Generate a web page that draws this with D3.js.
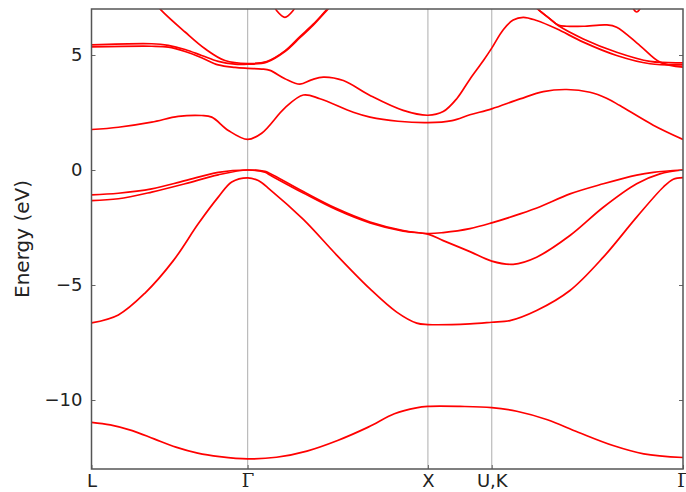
<!DOCTYPE html>
<html>
<head>
<meta charset="utf-8">
<script src="https://cdn.jsdelivr.net/npm/d3@7"></script>
<style>
  body { margin: 0; background: white; }
  svg { display: block; }
  .tickText { font-family: "DejaVu Sans", sans-serif; font-size: 18px; fill: #222; }
  .greek { font-family: "DejaVu Serif", serif; }
</style>
</head>
<body>
<svg id="bands" width="686" height="492"></svg>
<script>
// k-path positions (units of 2pi/a) and their labels
const kPoints = [0, 0.866, 1.866, 2.220, 3.281];
const kLabels = ["L", "\u0393", "X", "U,K", "\u0393"];
const energyTicks = [5, 0, -5, -10];

// bands, [k, E(eV)]
const band1 = [[0,-10.97],[0.104,-11.08],[0.226,-11.33],[0.347,-11.69],[0.468,-12.05],[0.589,-12.31],[0.711,-12.46],[0.866,-12.56],[1.026,-12.49],[1.195,-12.22],[1.365,-11.76],[1.535,-11.18],[1.68,-10.6],[1.802,-10.34],[1.866,-10.28],[2.044,-10.28],[2.22,-10.33],[2.359,-10.49],[2.529,-10.86],[2.699,-11.4],[2.893,-11.98],[3.063,-12.34],[3.281,-12.5]];
const band2 = [[0,-6.65],[0.149,-6.3],[0.297,-5.35],[0.455,-3.93],[0.592,-2.34],[0.703,-1.18],[0.778,-0.52],[0.866,-0.34],[0.925,-0.46],[0.99,-0.85],[1.175,-2.15],[1.36,-3.7],[1.545,-5.17],[1.693,-6.18],[1.804,-6.66],[1.866,-6.72],[2.099,-6.69],[2.22,-6.62],[2.321,-6.55],[2.469,-6.11],[2.654,-5.24],[2.839,-3.79],[3.024,-2.05],[3.171,-0.75],[3.227,-0.4],[3.281,-0.33]];
const band3 = [[0,-1.33],[0.149,-1.25],[0.334,-0.96],[0.519,-0.6],[0.703,-0.21],[0.866,0],[0.962,-0.1],[0.99,-0.22],[1.175,-1.0],[1.36,-1.73],[1.545,-2.3],[1.729,-2.66],[1.866,-2.79],[1.951,-3.07],[2.099,-3.55],[2.22,-3.96],[2.339,-4.1],[2.469,-3.79],[2.654,-2.85],[2.839,-1.62],[3.024,-0.6],[3.153,-0.17],[3.281,0]];
const band4 = [[0,-1.08],[0.149,-1.01],[0.334,-0.82],[0.519,-0.46],[0.703,-0.1],[0.866,0],[0.962,-0.06],[0.99,-0.15],[1.175,-0.94],[1.36,-1.68],[1.545,-2.26],[1.729,-2.63],[1.866,-2.76],[1.951,-2.72],[2.099,-2.55],[2.22,-2.3],[2.377,-1.91],[2.488,-1.6],[2.654,-1.04],[2.839,-0.6],[3.024,-0.22],[3.116,-0.1],[3.281,0]];
const band5 = [[0,1.76],[0.149,1.86],[0.334,2.08],[0.481,2.33],[0.611,2.37],[0.667,2.3],[0.759,1.72],[0.866,1.33],[0.944,1.6],[1.073,2.7],[1.175,3.26],[1.267,3.1],[1.452,2.51],[1.545,2.3],[1.7,2.12],[1.866,2.06],[2.0,2.15],[2.099,2.4],[2.22,2.66],[2.377,3.09],[2.506,3.41],[2.636,3.5],[2.765,3.38],[2.857,3.12],[2.931,2.8],[3.116,1.95],[3.281,1.33]];
const band6 = [[0,5.35],[0.334,5.38],[0.426,5.34],[0.519,5.15],[0.611,4.88],[0.703,4.57],[0.796,4.46],[0.866,4.42],[0.944,4.39],[0.99,4.33],[1.073,3.97],[1.156,3.73],[1.22,3.92],[1.286,4.04],[1.397,3.89],[1.545,3.24],[1.729,2.59],[1.866,2.38],[1.951,2.54],[2.026,3.1],[2.099,3.95],[2.173,4.75],[2.22,5.3],[2.284,6.1],[2.339,6.52],[2.395,6.64],[2.469,6.5],[2.58,6.14],[2.728,5.56],[2.913,4.98],[3.098,4.62],[3.281,4.57]];
const band7 = [[0,5.44],[0.334,5.49],[0.426,5.42],[0.519,5.24],[0.611,4.98],[0.703,4.72],[0.796,4.6],[0.866,4.6],[0.972,4.69],[1.073,5.15],[1.156,5.75],[1.23,6.3],[1.304,6.93],[1.36,7.4]];
const band8 = [[0.34,7.4],[0.389,6.93],[0.519,6.0],[0.63,5.27],[0.74,4.76],[0.866,4.63],[0.972,4.72],[1.073,5.18],[1.156,5.8],[1.23,6.34],[1.304,6.96],[1.36,7.4]];
const band9 = [[0.99,7.5],[1.03,6.9],[1.073,6.64],[1.115,6.9],[1.155,7.5]];
const band10 = [[2.44,7.3],[2.478,6.98],[2.543,6.57],[2.589,6.28],[2.728,5.7],[2.913,5.12],[3.098,4.72],[3.281,4.66]];
const band11 = [[2.44,7.3],[2.478,6.98],[2.543,6.57],[2.589,6.3],[2.636,6.25],[2.728,6.25],[2.857,6.31],[2.913,6.21],[3.042,5.41],[3.153,4.69],[3.281,4.47]];
const band12 = [[2.995,7.15],[3.024,6.87],[3.053,7.15]];
const allBands = [band1, band2, band3, band4, band5, band6, band7, band8, band9, band10, band11, band12];

const margin = { top: 9, right: 3, bottom: 23, left: 91.5 };
const width = 686, height = 492;
const svg = d3.select("svg#bands");

const x = d3.scaleLinear().domain([0, 3.281]).range([margin.left, width - margin.right]);
const y = d3.scaleLinear().domain([-13, 7]).range([height - margin.bottom, margin.top]);

//clip so bands running off the top are cut at the frame
svg.append("clipPath").attr("id", "plotClip")
  .append("rect")
  .attr("x", x(0)).attr("y", y(7))
  .attr("width", x(3.281) - x(0)).attr("height", y(-13) - y(7));

//grey vertical lines at the high symmetry points
function drawSymmetryLines() {
  svg.append("g").selectAll("line")
    .data(kPoints.slice(1, -1))
    .join("line")
    .attr("x1", d => x(d)).attr("x2", d => x(d))
    .attr("y1", y(7)).attr("y2", y(-13))
    .style("stroke", "#bbb")
    .style("stroke-width", 1.2);
}

//draws every band as a red curve
function drawBands() {
  const line = d3.line()
    .x(d => x(d[0]))
    .y(d => y(d[1]))
    .curve(d3.curveCatmullRom.alpha(0.5));
  svg.append("g").attr("clip-path", "url(#plotClip)")
    .selectAll("path")
    .data(allBands)
    .join("path")
    .attr("d", line)
    .style("fill", "none")
    .style("stroke", "#f00")
    .style("stroke-width", 1.7);
}

//frame, inward ticks and labels
function drawAxes() {
  const yAxisL = d3.axisLeft(y).tickValues(energyTicks).tickSize(-4).tickPadding(9).tickFormat(d3.format("d"));
  const yAxisR = d3.axisRight(y).tickValues(energyTicks).tickSize(-4).tickFormat("");
  const xAxis = d3.axisBottom(x).tickValues(kPoints).tickSize(-4).tickFormat((d, i) => kLabels[i]);

  const gl = svg.append("g").attr("transform", "translate(" + x(0) + ",0)").call(yAxisL);
  const gr = svg.append("g").attr("transform", "translate(" + x(3.281) + ",0)").call(yAxisR);
  const gb = svg.append("g").attr("transform", "translate(0," + y(-13) + ")").call(xAxis);

  [gl, gr, gb].forEach(g => {
    g.select(".domain").remove();
    g.selectAll(".tick line").style("stroke", "#666");
    g.selectAll("text").attr("class", "tickText");
  });
  gb.selectAll("text").filter(d => d === kPoints[1] || d === kPoints[4]).classed("greek", true);
  gb.selectAll("text").attr("y", 18).attr("dy", 0);

  svg.append("rect")
    .attr("x", x(0)).attr("y", y(7))
    .attr("width", x(3.281) - x(0)).attr("height", y(-13) - y(7))
    .style("fill", "none")
    .style("stroke", "#555")
    .style("stroke-width", 1.5);

  svg.append("text")
    .attr("class", "tickText")
    .attr("transform", "translate(29,239) rotate(-90)")
    .attr("text-anchor", "middle")
    .style("font-size", "20px")
    .text("Energy (eV)");
}

drawSymmetryLines();
drawBands();
drawAxes();
</script>
</body>
</html>
